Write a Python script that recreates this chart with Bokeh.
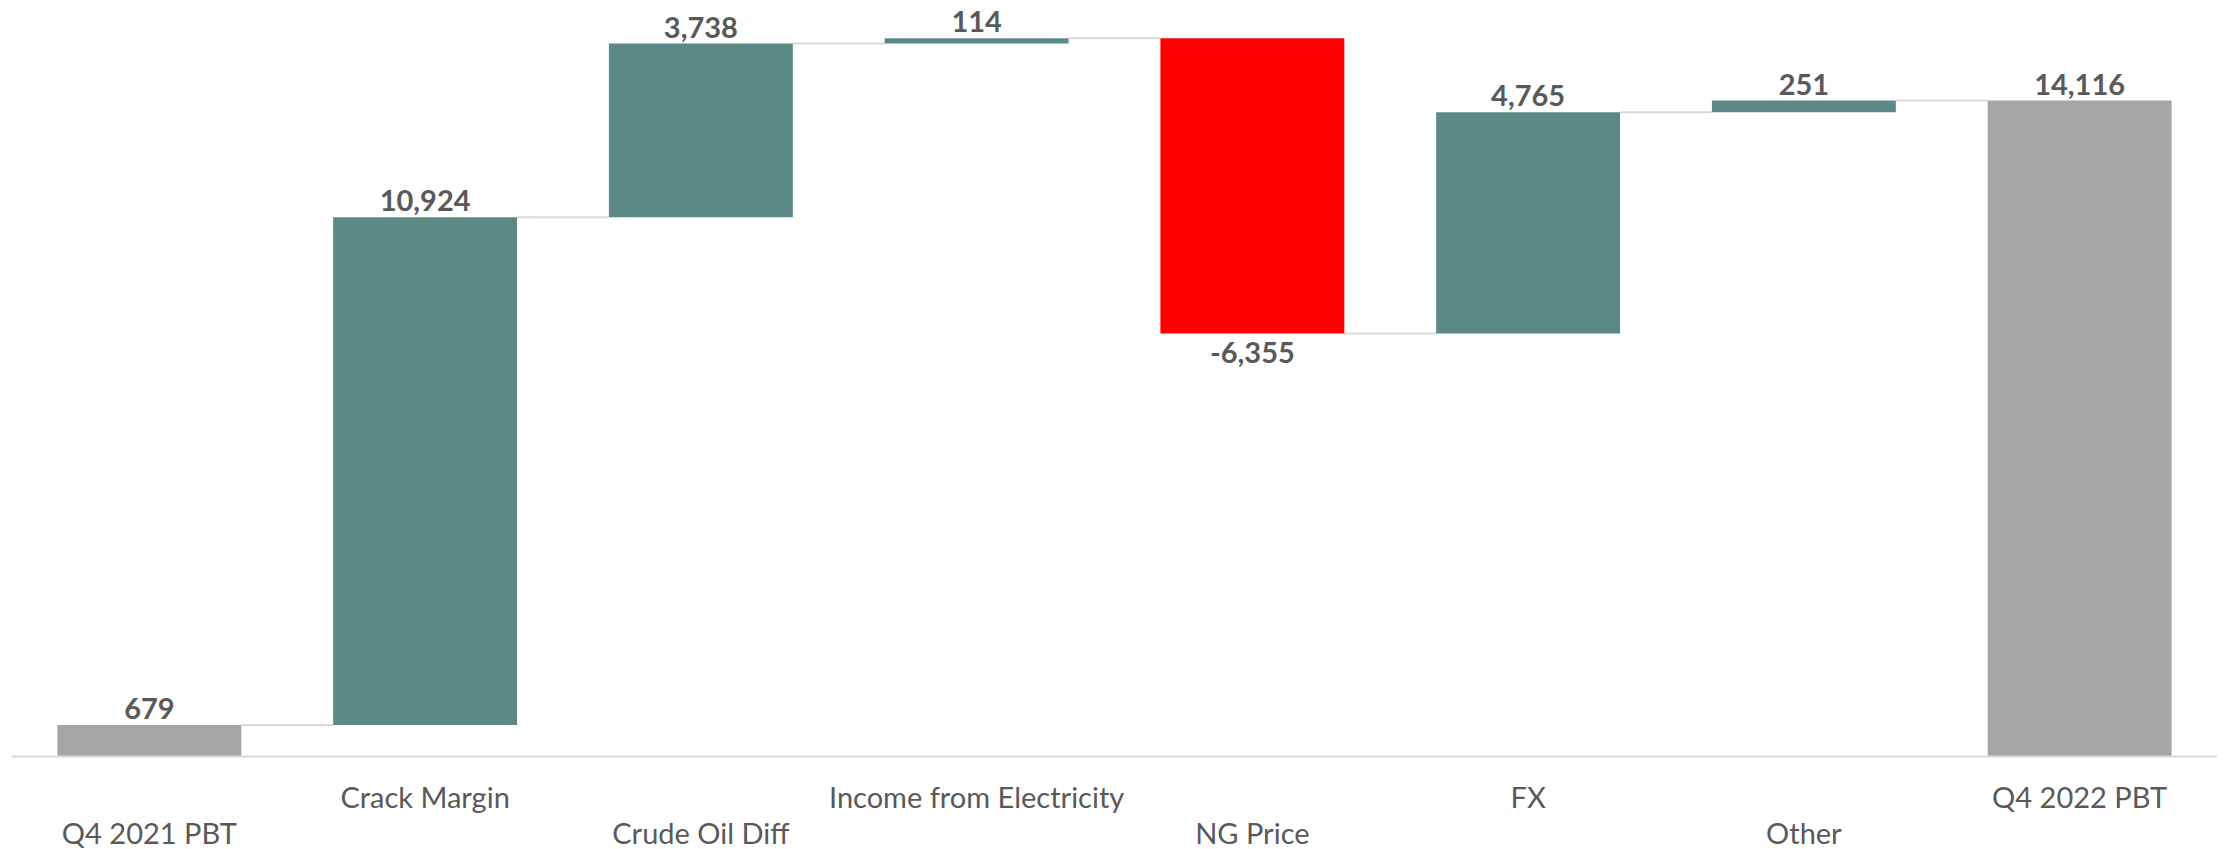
from bokeh.plotting import figure
from bokeh.models import ColumnDataSource, Range1d, Span
from bokeh.core.properties import value
from bokeh.embed import file_html
from bokeh.resources import INLINE

categories = ["Q4 2021 PBT", "Crack Margin", "Crude Oil Diff", "Income from Electricity",
              "NG Price", "FX", "Other", "Q4 2022 PBT"]
changes = [679, 10924, 3738, 114, -6355, 4765, 251, 14116]
kinds = ["total", "delta", "delta", "delta", "delta", "delta", "delta", "total"]
value_labels = ["679", "10,924", "3,738", "114", "-6,355", "4,765", "251", "14,116"]

TEAL = "#5B8986"
GRAY = "#A5A5A5"
RED = "#FF0000"
TEXT = "#595959"
LINE = "#D9D9D9"
FONT = "Lato"

xs, bottoms, tops, colors, levels = [], [], [], [], []
running = 0
for i, (c, k) in enumerate(zip(changes, kinds)):
    if k == "total":
        b, t = 0, c
        running = c
        col = GRAY
    else:
        start = running
        running = running + c
        b, t = min(start, running), max(start, running)
        col = TEAL if c >= 0 else RED
    xs.append(i)
    bottoms.append(b)
    tops.append(t)
    colors.append(col)
    levels.append(running)

BAR_W = 0.667
src = ColumnDataSource(dict(x=xs, bottom=bottoms, top=tops, color=colors))

px_per_unit = 656 / 14116.0
y_top = 756 / px_per_unit
y_bot = -(849 - 756) / px_per_unit

p = figure(width=2224, height=849, output_backend="svg", toolbar_location=None,
           x_range=Range1d(-0.5, len(categories) - 0.5), y_range=Range1d(y_bot, y_top),
           min_border=0, min_border_left=11, min_border_right=7, min_border_top=0,
           min_border_bottom=0)
p.axis.visible = False
p.grid.visible = False
p.outline_line_color = None
p.background_fill_color = "white"
p.border_fill_color = "white"

# baseline axis line
p.add_layout(Span(location=0, dimension="width", line_color=LINE, line_width=2))

# connectors
cx0 = [xs[i] + BAR_W / 2 for i in range(len(xs) - 1)]
cx1 = [xs[i + 1] - BAR_W / 2 for i in range(len(xs) - 1)]
cy = [levels[i] for i in range(len(xs) - 1)]
p.segment(x0=cx0, y0=cy, x1=cx1, y1=cy, line_color=LINE, line_width=2)

p.vbar(x="x", width=BAR_W, bottom="bottom", top="top", fill_color="color",
       line_color=None, source=src)

# value labels
pos_idx = [i for i in range(len(xs)) if not (kinds[i] == "delta" and changes[i] < 0)]
neg_idx = [i for i in range(len(xs)) if kinds[i] == "delta" and changes[i] < 0]
p.text(x=[xs[i] for i in pos_idx], y=[tops[i] for i in pos_idx],
       text=[value_labels[i] for i in pos_idx], text_align="center",
       text_baseline="bottom", y_offset=-6, text_font=value(FONT),
       text_font_style="bold", text_font_size="29px", text_color=TEXT)
p.text(x=[xs[i] for i in neg_idx], y=[bottoms[i] for i in neg_idx],
       text=[value_labels[i] for i in neg_idx], text_align="center",
       text_baseline="top", y_offset=8, text_font=value(FONT),
       text_font_style="bold", text_font_size="29px", text_color=TEXT)

# staggered category labels
cat_off = [76 if i % 2 == 0 else 40 for i in range(len(categories))]
p.text(x=xs, y=[0] * len(xs), text=categories, text_align="center",
       text_baseline="middle", y_offset=cat_off, text_font=value(FONT),
       text_font_size="29px", text_color=TEXT)

open("out.html", "w").write(file_html(p, INLINE))
